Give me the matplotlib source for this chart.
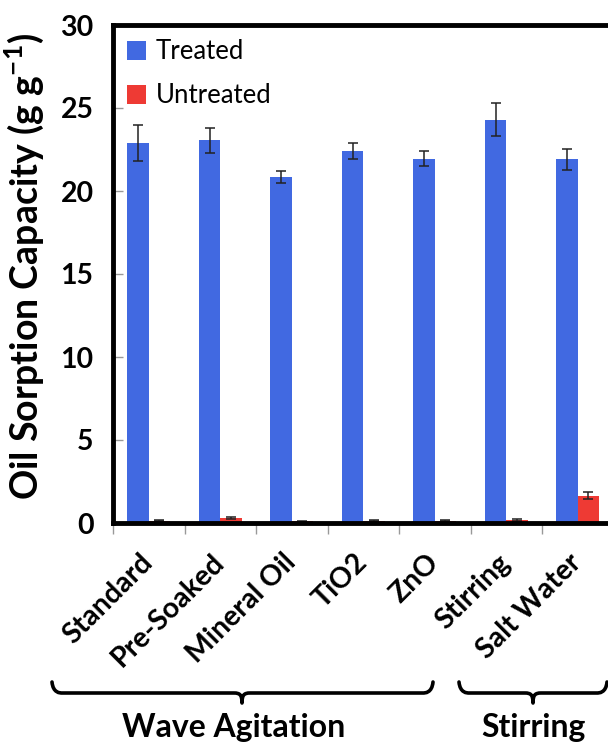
import numpy as np
import matplotlib
matplotlib.use('Agg')
import matplotlib.pyplot as plt
from matplotlib.path import Path
from matplotlib.patches import PathPatch
from matplotlib.transforms import ScaledTranslation

plt.rcParams['font.family'] = ['Lato', 'DejaVu Sans']
plt.rcParams['mathtext.fontset'] = 'custom'
plt.rcParams['mathtext.bf'] = 'Lato:bold'
plt.rcParams['mathtext.rm'] = 'Lato'

samples = ['Standard', 'Pre-Soaked', 'Mineral Oil', 'TiO2', 'ZnO', 'Stirring', 'Salt Water']
treated = [22.9, 23.05, 20.85, 22.4, 21.95, 24.3, 21.9]
treated_err = [1.1, 0.75, 0.35, 0.5, 0.45, 1.0, 0.65]
untreated = [0.15, 0.28, 0.1, 0.15, 0.15, 0.2, 1.65]
untreated_err = [0.03, 0.06, 0.02, 0.04, 0.03, 0.06, 0.2]
groups = ['Wave Agitation', 'Stirring']

blue = '#4169E1'
red = '#EE3A34'

W, H = 608, 745
fig = plt.figure(figsize=(W / 100, H / 100), dpi=100)
ax = fig.add_axes([113 / W, 1 - 523 / H, (612.5 - 112) / W, (523 - 25) / H])

x = np.arange(len(samples))
bw = 0.3
ax.bar(x - bw / 2, treated, bw, color=blue, label='Treated',
       yerr=treated_err, error_kw=dict(ecolor='#222222', elinewidth=1.1, capsize=3.5, capthick=1.1))
ax.bar(x + bw / 2, untreated, bw, color=red, label='Untreated',
       yerr=untreated_err, error_kw=dict(ecolor='#222222', elinewidth=1.1, capsize=3.5, capthick=1.1))

ax.set_xlim(-0.5, len(samples) - 0.5)
ax.set_ylim(0, 30)
ax.set_yticks(range(0, 31, 5))
ax.tick_params(axis='y', direction='in', length=7, color='#999999', width=1, pad=14,
               labelsize=20.5)
for t in ax.get_yticklabels():
    t.set_fontweight('bold')

ax.set_xticks(x)
ax.set_xticklabels(samples, rotation=45, ha='right', rotation_mode='anchor',
                   fontsize=20.5, fontweight='bold')
ax.tick_params(axis='x', length=0, pad=19)
shift = ScaledTranslation(-7 / 72, 0, fig.dpi_scale_trans)
for t in ax.get_xticklabels():
    t.set_transform(t.get_transform() + shift)
ax.set_xticks(np.arange(-0.5, len(samples), 1), minor=True)
ax.tick_params(axis='x', which='minor', direction='out', length=8, color='#999999', width=1)

for s in ['left', 'top', 'bottom']:
    ax.spines[s].set_linewidth(3.5)
ax.spines['right'].set_visible(False)

ax.set_ylabel('Oil Sorption Capacity (g g$^{\\mathbf{-1}}$)', fontsize=27, fontweight='bold')
ax.yaxis.set_label_coords(-0.134, 0.515)

ax.legend(loc='upper left', frameon=False, prop=dict(size=18.5), handlelength=0.75,
          handleheight=0.75, labelspacing=0.75, borderaxespad=0.15, handletextpad=0.35)

# group braces drawn in pixel coordinates on an overlay
ov = fig.add_axes([0, 0, 1, 1], facecolor='none')
ov.set_xlim(0, W)
ov.set_ylim(H, 0)
ov.axis('off')


def brace(x0, x1, xm, ytop, ymid, ytip):
    verts = [(x0, ytop), (x0 + 1, ymid), (x0 + 8, ymid), (x0 + 10, ymid),
             (xm - 8, ymid),
             (xm - 2, ymid), (xm, ymid + 2), (xm, ytip),
             (xm, ymid + 2), (xm + 2, ymid), (xm + 8, ymid),
             (x1 - 10, ymid),
             (x1 - 8, ymid), (x1 - 1, ymid), (x1, ytop)]
    codes = [Path.MOVETO, Path.CURVE4, Path.CURVE4, Path.CURVE4,
             Path.LINETO,
             Path.CURVE4, Path.CURVE4, Path.CURVE4,
             Path.CURVE4, Path.CURVE4, Path.CURVE4,
             Path.LINETO,
             Path.CURVE4, Path.CURVE4, Path.CURVE4]
    ov.add_patch(PathPatch(Path(verts, codes), fill=False, lw=2.6, color='black',
                           capstyle='round', joinstyle='round'))


brace(52, 433, 242, 682, 693, 703)
brace(459, 607, 533, 682, 693, 703)
ov.text(234, 727, groups[0], ha='center', va='center', fontsize=23, fontweight='bold')
ov.text(533, 727, groups[1], ha='center', va='center', fontsize=23, fontweight='bold')

fig.savefig('out.png', dpi=100)
